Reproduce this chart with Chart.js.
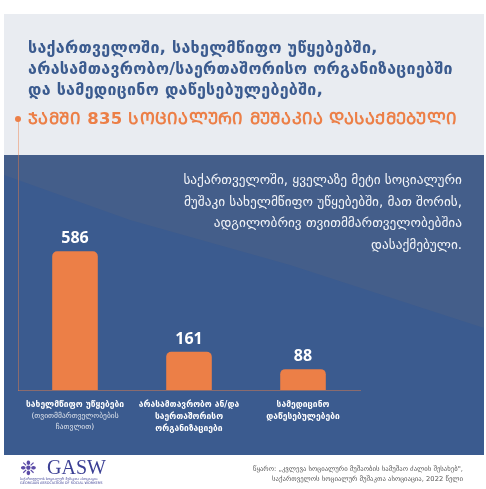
<!DOCTYPE html>
<html>
<head>
<meta charset="utf-8">
<script src="https://cdn.jsdelivr.net/npm/chart.js@4.4.1/dist/chart.umd.min.js"></script>
<style>
  body { margin: 0; width: 486px; height: 489px; background: #fff; position: relative; overflow: hidden; font-family: "DejaVu Sans", sans-serif; }
  .grey { position: absolute; left: 4px; top: 14px; width: 480px; height: 141px; background: #e9ecf1; }
  .blue { position: absolute; left: 4px; top: 155px; width: 480px; height: 300px; background: #3b5b8f; overflow: hidden; }
  .blue .light { position: absolute; left: 0; top: 0; width: 480px; height: 300px; background: #445e8a;
    clip-path: polygon(0 20px, 126px 65px, 286px 110px, 480px 173px, 480px 0, 0 0); }
  #chart { position: absolute; left: 0; top: 0; }
  .title { position: absolute; left: 28px; top: 37px; color: #3b5b8f; font-weight: bold; font-size: 16px; letter-spacing: 0.3px; line-height: 21px; white-space: nowrap; }
  .total { position: absolute; left: 28px; top: 108px; color: #ec7f47; font-weight: bold; font-size: 16.5px; letter-spacing: 0.25px; line-height: 22px; white-space: nowrap; }
  .dot { position: absolute; left: 15px; top: 116px; width: 6px; height: 6px; border-radius: 50%; background: #ec7f47; }
  .note { position: absolute; right: 24px; top: 169px; color: #f2f4f8; font-size: 13.3px; line-height: 21.5px; text-align: right; white-space: nowrap; }
  .logo { position: absolute; left: 20px; top: 458px; }
  .logo .star { position: absolute; left: 0; top: 0; font-size: 20px; color: #5b4ba6; line-height: 20px; }
  .logo .name { position: absolute; left: 27px; top: 0; font-family: "Liberation Serif", serif; font-size: 20px; line-height: 19px; color: #3b3f94; }
  .logo .sub { position: absolute; left: 0; top: 19px; font-size: 7px; line-height: 7.5px; color: #3b3f94; white-space: nowrap; transform: scale(0.5); transform-origin: 0 0; }
  .source { position: absolute; right: 23px; top: 464px; font-size: 6.75px; line-height: 10px; color: #555; text-align: right; white-space: nowrap; }
</style>
</head>
<body>
<div class="grey"></div>
<div class="blue"><div class="light"></div></div>
<canvas id="chart" width="486" height="489"></canvas>
<div class="title">
  საქართველოში, სახელმწიფო უწყებებში,<br>
  არასამთავრობო/საერთაშორისო ორგანიზაციებში<br>
  და სამედიცინო დაწესებულებებში,
</div>
<div class="total" id="total">ჯამში 835 სოციალური მუშაკია დასაქმებული</div>
<div class="dot"></div>
<div class="note">
  საქართველოში, ყველაზე მეტი სოციალური<br>
  მუშაკი სახელმწიფო უწყებებში, მათ შორის,<br>
  ადგილობრივ თვითმმართველობებშია<br>
  დასაქმებული.
</div>
<div class="logo">
  <div class="star">❉</div>
  <div class="name">GASW</div>
  <div class="sub">საქართველოს სოციალურ მუშაკთა ასოციაცია<br>GEORGIAN ASSOCIATION OF SOCIAL WORKERS</div>
</div>
<div class="source">
  წყარო: „კვლევა სოციალური მუშაობის სამუშაო ძალის შესახებ",<br>
  საქართველოს სოციალურ მუშაკთა ასოციაცია, 2022 წელი
</div>
<script>
// orange line is set in Mtavruli capitals
const totalEl = document.getElementById('total')
totalEl.textContent = totalEl.textContent.toUpperCase()

const categories = ['სახელმწიფო უწყებები', 'არასამთავრობო ან/და საერთაშორისო ორგანიზაციები', 'სამედიცინო დაწესებულებები']
const categoryLines = [
  ['სახელმწიფო უწყებები'],
  ['არასამთავრობო ან/და', 'საერთაშორისო', 'ორგანიზაციები'],
  ['სამედიცინო', 'დაწესებულებები']
]
const categoryNotes = [
  ['(თვითმმართველობების', 'ჩათვლით)'],
  [],
  []
]
const values = [586, 161, 88]

const barLabels = {
  id: 'barLabels',
  afterDatasetsDraw(chart) {
    const ctx = chart.ctx
    const xs = chart.scales.x
    const meta = chart.getDatasetMeta(0)
    ctx.save()
    ctx.textAlign = 'center'
    ctx.textBaseline = 'alphabetic'
    ctx.fillStyle = '#ffffff'
    ctx.font = 'bold 16px "Open Sans"'
    meta.data.forEach((bar, i) => {
      ctx.fillText(String(values[i]), bar.x, bar.y - 8)
    })
    categoryLines.forEach((lines, i) => {
      const cx = xs.getPixelForValue(i)
      let y = xs.top + 17
      ctx.fillStyle = '#ffffff'
      ctx.font = 'bold 8.5px "DejaVu Sans"'
      lines.forEach(line => {
        ctx.fillText(line, cx, y)
        y += 12
      })
      ctx.fillStyle = 'rgba(255,255,255,0.85)'
      ctx.font = '7.5px "DejaVu Sans"'
      categoryNotes[i].forEach(line => {
        ctx.fillText(line, cx, y - 1)
        y += 11
      })
    })
    ctx.restore()
  }
}

new Chart(document.getElementById('chart'), {
  type: 'bar',
  data: {
    labels: categories,
    datasets: [{
      data: values,
      backgroundColor: '#ec7f47',
      borderRadius: { topLeft: 5, topRight: 5 },
      borderSkipped: 'bottom',
      categoryPercentage: 1,
      barPercentage: 0.4
    }]
  },
  options: {
    responsive: false,
    animation: false,
    layout: { padding: { left: 18, right: 126, top: 120, bottom: 99 } },
    plugins: { legend: { display: false }, tooltip: { enabled: false } },
    scales: {
      x: {
        offset: true,
        grid: { display: false },
        ticks: { display: false },
        border: { display: true, color: 'rgba(236,127,71,0.45)', width: 1 },
        afterFit: s => { s.height = 0 }
      },
      y: {
        min: 0,
        max: 1140,
        grid: { display: false },
        ticks: { display: false },
        border: { display: true, color: 'rgba(236,127,71,0.45)', width: 1 },
        afterFit: s => { s.width = 0 }
      }
    }
  },
  plugins: [barLabels]
})
</script>
</body>
</html>
